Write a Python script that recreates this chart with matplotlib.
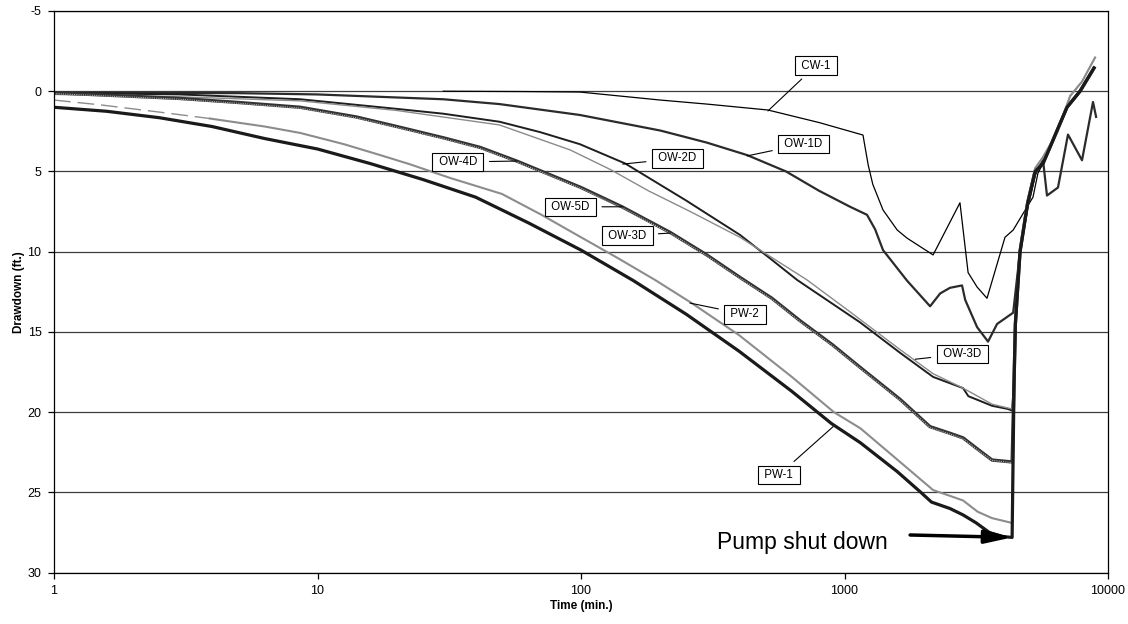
import matplotlib
matplotlib.use("Agg")
import matplotlib.pyplot as plt

plt.rcParams['font.family'] = ['Liberation Sans', 'DejaVu Sans']
plt.rcParams['axes.unicode_minus'] = False

# recovery after the pump is shut down (shared shape of the bundle)
recovery_t = [4400, 4450, 4634, 4950, 5287, 5666, 6200, 6985, 7830, 8850]
recovery_dark = [18.0, 14.5, 10.0, 7.0, 5.0, 4.5, 3.0, 1.0, 0.0, -1.45]
recovery_grey_t = [4400, 4450, 4634, 4950, 5287, 5666, 6400, 7178, 7966, 8930]
recovery_grey = [18.0, 14.3, 9.8, 6.8, 4.8, 4.1, 2.6, 0.3, -0.6, -2.1]

# pumping period, time (min.) and drawdown (ft.)
pw1_t = [1, 1.585, 2.51, 3.98, 6.31, 10, 15.8, 25.1, 39.8, 63.1, 100, 158, 251, 398, 631,
         891, 1148, 1585, 1950, 2138, 2512, 2818, 3162, 3548, 3981, 4325]
pw1_dd = [1.0, 1.25, 1.65, 2.2, 2.95, 3.6, 4.5, 5.5, 6.6, 8.2, 9.9, 11.8, 13.9, 16.2, 18.7,
          20.7, 21.9, 23.7, 25.0, 25.6, 26.0, 26.4, 26.9, 27.5, 27.75, 27.8]

pw2_t = [1, 1.5, 2.51, 3.9, 6.31, 8.6, 12.6, 17.3, 22.4, 31.8, 50.1, 70.8, 100, 138, 191,
         263, 398, 631, 912, 1148, 1585, 2168, 2500, 2818, 3200, 3630, 4325]
pw2_dd = [0.55, 0.85, 1.3, 1.7, 2.2, 2.6, 3.3, 3.98, 4.55, 5.4, 6.4, 7.7, 9.1, 10.4, 11.76,
          13.2, 15.2, 17.8, 20.0, 21.0, 22.95, 24.85, 25.2, 25.5, 26.2, 26.6, 26.9]

ow4d_t = [1, 3, 5, 8.6, 14, 20, 30, 41.4, 57, 100, 143, 218, 300, 401, 530, 678, 900, 1145,
          1625, 2110, 2500, 2818, 3200, 3630, 4325]
ow4d_dd = [0.1, 0.45, 0.7, 1.0, 1.6, 2.2, 2.9, 3.5, 4.35, 6.0, 7.2, 8.8, 10.2, 11.6, 12.9,
           14.3, 15.8, 17.2, 19.2, 20.9, 21.3, 21.6, 22.3, 22.98, 23.1]
ow5d_dd = [0.15, 0.5, 0.75, 1.05, 1.65, 2.25, 2.95, 3.55, 4.4, 6.05, 7.25, 8.85, 10.25,
           11.65, 12.95, 14.35, 15.85, 17.25, 19.25, 20.95, 21.35, 21.65, 22.35, 23.0, 23.15]

ow2d_t = [1, 3, 8.6, 20, 30, 49, 70, 99, 147, 250, 401, 520, 661, 1145, 1625, 2168, 2818,
          2950, 3630, 4170, 4325]
ow2d_dd = [0.1, 0.2, 0.5, 1.1, 1.4, 1.9, 2.55, 3.3, 4.5, 6.8, 8.95, 10.4, 11.76, 14.4, 16.3,
           17.8, 18.5, 19.0, 19.6, 19.8, 19.9]

ow3d_t = [1, 3, 8.6, 20, 49, 91, 130, 180, 260, 401, 721, 1050, 1625, 2168, 2818, 3630, 4325]
ow3d_dd = [0.2, 0.35, 0.6, 1.2, 2.1, 3.66, 4.9, 6.2, 7.5, 9.1, 11.76, 13.75, 16.1, 17.6,
           18.5, 19.5, 19.8]

ow1d_t = [1, 5, 10, 30, 49, 99, 200, 300, 427, 600, 800, 1050, 1217, 1306, 1400, 1726, 2112,
          2306, 2512, 2792, 2870, 3185, 3505, 3793, 4365, 4634, 4950, 5287, 5666, 5866, 6457,
          7047, 7966, 8770, 9010]
ow1d_dd = [0.1, 0.12, 0.2, 0.5, 0.8, 1.48, 2.45, 3.2, 3.98, 5.0, 6.2, 7.2, 7.7, 8.6, 9.9,
           11.8, 13.4, 12.6, 12.25, 12.1, 13.0, 14.7, 15.6, 14.5, 13.8, 10.0, 7.2, 5.2, 4.3,
           6.5, 6.0, 2.7, 4.3, 0.67, 1.6]

cw1_t = [30, 60, 99, 200, 300, 512, 800, 1175, 1200, 1230, 1280, 1400, 1585, 1726, 2168,
         2742, 2944, 3185, 3473, 4064, 4365, 5190, 5420, 5666, 6200, 6985, 7830, 8850]
cw1_dd = [0.0, 0.02, 0.05, 0.55, 0.8, 1.17, 1.95, 2.73, 3.6, 4.6, 5.8, 7.4, 8.65, 9.15, 10.2,
          6.95, 11.3, 12.2, 12.9, 9.1, 8.65, 6.6, 5.1, 4.5, 3.0, 1.0, 0.0, -1.45]

# well labels: (text, label position, pointer end)
labels = [
    ("CW-1", (779, -1.6), (512, 1.23)),
    ("OW-1D", (699, 3.29), (427, 4.03)),
    ("OW-2D", (232, 4.19), (144, 4.54)),
    ("OW-4D", (34.1, 4.41), (57, 4.35)),
    ("OW-5D", (91.2, 7.2), (144, 7.2)),
    ("OW-3D", (149.5, 8.99), (218, 8.84)),
    ("OW-3D", (2793, 16.37), (1853, 16.7)),
    ("PW-2", (419, 13.9), (259, 13.2)),
    ("PW-1", (564, 23.9), (905, 20.9)),
]


def main():
    fig = plt.figure(figsize=(11.28, 6.24), dpi=100)
    ax = fig.add_axes([0.0479, 0.0822, 0.9344, 0.9002])

    pw1_full_t = pw1_t + recovery_t
    pw1_full = pw1_dd + recovery_dark
    pw2_full_t = pw2_t + recovery_grey_t
    pw2_full = pw2_dd + recovery_grey

    ax.plot(cw1_t, cw1_dd, color="black", lw=0.9)
    ax.plot(ow1d_t, ow1d_dd, color="#2b2b2b", lw=1.6)
    ax.plot(ow2d_t + recovery_t, ow2d_dd + recovery_dark, color="#1e1e1e", lw=1.4)
    ax.plot(ow3d_t + recovery_grey_t, ow3d_dd + recovery_grey, color="#8a8a8a", lw=1.0)

    # the two deep observation wells overlap into a hatched band
    ax.plot(ow4d_t + recovery_t, ow4d_dd + recovery_dark, color="#333333", lw=2.4)
    ax.plot(ow4d_t + recovery_t, ow5d_dd + recovery_dark, color="#b0b0b0", lw=0.8,
            linestyle=(0, (1, 1)))

    # PW-2: early points drawn dashed
    ax.plot(pw2_full_t[:4], pw2_full[:4], color="#8c8c8c", lw=1.0, dashes=(12, 5))
    ax.plot(pw2_full_t[3:], pw2_full[3:], color="#8c8c8c", lw=1.5)
    ax.plot(pw1_full_t, pw1_full, color="#1a1a1a", lw=2.3)

    for text, pos, end in labels:
        ax.annotate(" " + text + " ", xy=end, xytext=pos, fontsize=8.3, ha="center",
                    va="center",
                    bbox=dict(boxstyle="square,pad=0.28", fc="white", ec="black", lw=0.8),
                    arrowprops=dict(arrowstyle="-", lw=0.8, color="black", shrinkA=4, shrinkB=0))

    ax.annotate("", xy=(4330, 27.8), xytext=(1774, 27.65),
                arrowprops=dict(arrowstyle="-|>,head_length=0.9,head_width=0.22",
                                lw=2.5, color="black", mutation_scale=18, shrinkA=0, shrinkB=0))
    ax.text(328, 28.5, "Pump shut down", fontsize=16.5, ha="left", va="baseline")

    ax.set_xscale("log")
    ax.set_xlim(1, 10000)
    ax.set_ylim(30, -5)
    ax.set_xticks([1, 10, 100, 1000, 10000])
    ax.set_xticklabels(["1", "10", "100", "1000", "10000"])
    ax.set_yticks([-5, 0, 5, 10, 15, 20, 25, 30])
    ax.minorticks_off()
    ax.tick_params(axis="both", direction="out", length=4, width=0.9, labelsize=9, pad=5)
    ax.yaxis.grid(True, color="#3c3c3c", lw=0.9)
    ax.set_axisbelow(True)
    for spine in ax.spines.values():
        spine.set_linewidth(0.9)

    ax.set_xlabel("Time (min.)", fontsize=8.5, fontweight="bold", labelpad=2)
    ax.set_ylabel("Drawdown (ft.)", fontsize=8.5, fontweight="bold", labelpad=2)

    fig.savefig("out.png", dpi=100)


main()
